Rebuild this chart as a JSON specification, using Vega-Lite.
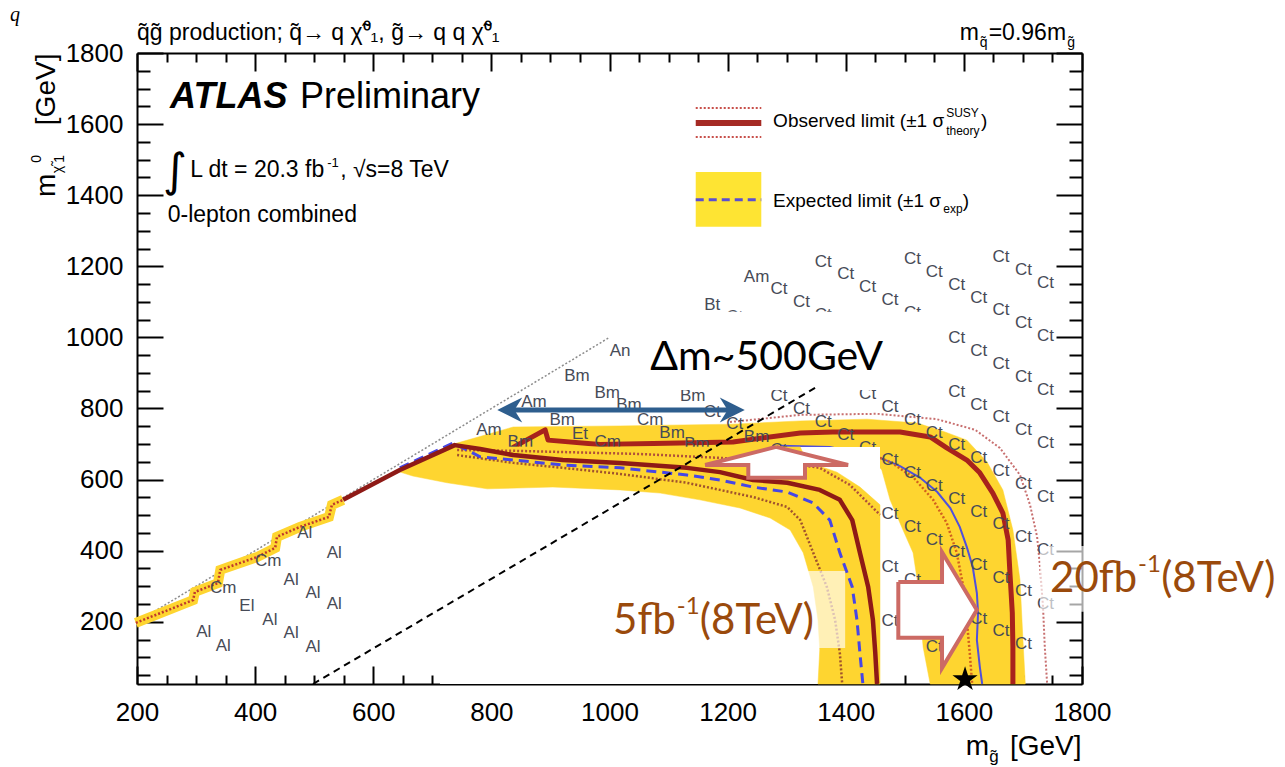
{
  "$schema": "https://vega.github.io/schema/vega-lite/v6.json",
  "width": 945,
  "height": 631,
  "autosize": {"type": "none"},
  "padding": {"left": 137, "top": 53, "right": 203, "bottom": 83},
  "background": "white",
  "config": {
    "view": {"stroke": null},
    "axis": {
      "grid": false, "domainColor": "black", "domainWidth": 2, "tickColor": "black", "tickWidth": 2,
      "labelFont": "Liberation Sans", "labelFontSize": 26, "labelColor": "black", "labelFlush": false,
      "zindex": 1, "title": null, "format": "d"
    }
  },
  "resolve": {"axis": {"x": "independent", "y": "independent"}},
  "layer": [
    {
      "description": "20 fb-1 expected band",
      "data": {"values": [
        {"x":730,"y":697},{"x":837,"y":748},{"x":1018,"y":751},{"x":1209,"y":756},{"x":1323,"y":765},{"x":1436,"y":770},{"x":1521,"y":759},{"x":1568,"y":734},{"x":1605,"y":711},{"x":1639,"y":650},{"x":1666,"y":571},{"x":1683,"y":458},{"x":1695,"y":318},{"x":1700,"y":149},{"x":1704,"y":25},{"x":1543,"y":25},{"x":1531,"y":129},{"x":1526,"y":225},{"x":1521,"y":318},{"x":1514,"y":394},{"x":1497,"y":458},{"x":1475,"y":543},{"x":1461,"y":627},{"x":1441,"y":669},{"x":1153,"y":678},{"x":730,"y":686}
      ]},
      "mark": {"type": "line", "filled": true, "fill": "#FED530", "stroke": "#FED530", "strokeWidth": 0.5},
      "encoding": {
        "x": {"field": "x", "type": "quantitative", "scale": {"domain": [200, 1800], "nice": false, "zero": false},
              "axis": {"orient": "bottom", "values": [200,400,600,800,1000,1200,1400,1600,1800], "ticks": false, "domain": true, "labelPadding": 15, "format": "d"}},
        "y": {"field": "y", "type": "quantitative", "scale": {"domain": [25, 1800], "nice": false, "zero": false},
              "axis": {"orient": "left", "values": [200,400,600,800,1000,1200,1400,1600,1800], "ticks": false, "domain": true, "labelPadding": 14, "format": "d"}},
        "order": {"value": null}
      }
    },
    {
      "description": "20 fb-1 observed limit",
      "data": {"values": [
        {"x":836,"y":690},{"x":891,"y":740},{"x":896,"y":711},{"x":984,"y":699},{"x":1209,"y":706},{"x":1323,"y":731},{"x":1378,"y":734},{"x":1492,"y":734},{"x":1543,"y":720},{"x":1571,"y":689},{"x":1605,"y":655},{"x":1627,"y":619},{"x":1649,"y":562},{"x":1666,"y":506},{"x":1675,"y":430},{"x":1678,"y":337},{"x":1682,"y":225},{"x":1683,"y":129},{"x":1683,"y":25}
      ]},
      "mark": {"type": "line", "color": "#A8221C", "strokeWidth": 5, "strokeJoin": "round"},
      "encoding": {
        "x": {"field": "x", "type": "quantitative", "axis": {"orient": "bottom", "values": [200,400,600,800,1000,1200,1400,1600,1800], "labels": false, "domain": false, "tickSize": -18}},
        "y": {"field": "y", "type": "quantitative", "axis": {"orient": "left", "values": [200,400,600,800,1000,1200,1400,1600,1800], "labels": false, "domain": false, "tickSize": -26}},
        "order": {"value": null}
      }
    },
    {
      "description": "20 fb-1 expected limit",
      "data": {"values": [
        {"x":1289,"y":695},{"x":1373,"y":692},{"x":1458,"y":661},{"x":1492,"y":638},{"x":1526,"y":605},{"x":1555,"y":565},{"x":1577,"y":520},{"x":1593,"y":467},{"x":1605,"y":410},{"x":1615,"y":354},{"x":1622,"y":281},{"x":1624,"y":225},{"x":1622,"y":149},{"x":1627,"y":73},{"x":1631,"y":25}
      ]},
      "mark": {"type": "line", "color": "#5050DC", "strokeWidth": 2},
      "encoding": {
        "x": {"field": "x", "type": "quantitative", "axis": {"orient": "bottom", "values": [250,300,350,450,500,550,650,700,750,850,900,950,1050,1100,1150,1250,1300,1350,1450,1500,1550,1650,1700,1750], "labels": false, "domain": false, "tickSize": -9}},
        "y": {"field": "y", "type": "quantitative", "axis": {"orient": "left", "values": [50,100,150,250,300,350,450,500,550,650,700,750,850,900,950,1050,1100,1150,1250,1300,1350,1450,1500,1550,1650,1700,1750], "labels": false, "domain": false, "tickSize": -13}},
        "order": {"value": null}
      }
    },
    {
      "description": "20 fb-1 observed +1 sigma",
      "data": {"values": [
        {"x":1204,"y":762},{"x":1323,"y":782},{"x":1453,"y":785},{"x":1554,"y":770},{"x":1619,"y":740},{"x":1661,"y":689},{"x":1695,"y":613},{"x":1712,"y":529},{"x":1724,"y":439},{"x":1729,"y":354},{"x":1734,"y":242},{"x":1737,"y":129},{"x":1741,"y":25}
      ]},
      "mark": {"type": "line", "color": "#C87070", "strokeWidth": 2, "strokeDash": [2, 2]},
      "encoding": {
        "x": {"field": "x", "type": "quantitative", "axis": {"orient": "top", "values": [200,400,600,800,1000,1200,1400,1600,1800], "labels": false, "domain": true, "tickSize": -18}},
        "y": {"field": "y", "type": "quantitative", "axis": {"orient": "right", "values": [200,400,600,800,1000,1200,1400,1600,1800], "labels": false, "domain": true, "tickSize": -26}},
        "order": {"value": null}
      }
    },
    {
      "description": "20 fb-1 observed -1 sigma",
      "data": {"values": [
        {"x":1458,"y":661},{"x":1475,"y":650},{"x":1514,"y":607},{"x":1548,"y":543},{"x":1571,"y":478},{"x":1588,"y":394},{"x":1599,"y":298},{"x":1605,"y":205},{"x":1610,"y":112},{"x":1614,"y":25}
      ]},
      "mark": {"type": "line", "color": "#D2601E", "strokeWidth": 2.5, "strokeDash": [2, 2]},
      "encoding": {
        "x": {"field": "x", "type": "quantitative", "axis": {"orient": "top", "values": [250,300,350,450,500,550,650,700,750,850,900,950,1050,1100,1150,1250,1300,1350,1450,1500,1550,1650,1700,1750], "labels": false, "domain": false, "tickSize": -9}},
        "y": {"field": "y", "type": "quantitative", "axis": {"orient": "right", "values": [50,100,150,250,300,350,450,500,550,650,700,750,850,900,950,1050,1100,1150,1250,1300,1350,1450,1500,1550,1650,1700,1750], "labels": false, "domain": false, "tickSize": -13}},
        "order": {"value": null}
      }
    },
    {
      "description": "best signal region per grid point (20 fb-1)",
      "data": {"values": [
        {"x":1174,"y":1092,"t":"Bt"},{"x":1174,"y":791,"t":"Ct"},
        {"x":1212,"y":1056,"t":"Ct"},{"x":1212,"y":755,"t":"Ct"},
        {"x":1249,"y":1171,"t":"Am"},{"x":1249,"y":719,"t":"Bm"},
        {"x":1287,"y":1135,"t":"Ct"},{"x":1287,"y":834,"t":"Ct"},{"x":1287,"y":683,"t":"Ct"},
        {"x":1325,"y":1099,"t":"Ct"},{"x":1325,"y":798,"t":"Ct"},
        {"x":1362,"y":1213,"t":"Ct"},{"x":1362,"y":1063,"t":"Ct"},{"x":1362,"y":762,"t":"Ct"},
        {"x":1400,"y":1177,"t":"Ct"},{"x":1400,"y":726,"t":"Ct"},
        {"x":1437,"y":1141,"t":"Ct"},{"x":1437,"y":840,"t":"Ct"},{"x":1437,"y":690,"t":"Ct"},
        {"x":1475,"y":1105,"t":"Ct"},{"x":1475,"y":804,"t":"Ct"},{"x":1475,"y":654,"t":"Ct"},{"x":1475,"y":503,"t":"Ct"},{"x":1475,"y":353,"t":"Ct"},{"x":1475,"y":202,"t":"Ct"},
        {"x":1513,"y":1220,"t":"Ct"},{"x":1513,"y":1069,"t":"Ct"},{"x":1513,"y":768,"t":"Ct"},{"x":1513,"y":618,"t":"Ct"},{"x":1513,"y":467,"t":"Ct"},{"x":1513,"y":317,"t":"Ct"},{"x":1513,"y":166,"t":"Ct"},
        {"x":1550,"y":1184,"t":"Ct"},{"x":1550,"y":732,"t":"Ct"},{"x":1550,"y":582,"t":"Ct"},{"x":1550,"y":431,"t":"Ct"},{"x":1550,"y":281,"t":"Ct"},{"x":1550,"y":130,"t":"Ct"},
        {"x":1588,"y":1148,"t":"Ct"},{"x":1588,"y":997,"t":"Ct"},{"x":1588,"y":847,"t":"Ct"},{"x":1588,"y":696,"t":"Ct"},{"x":1588,"y":546,"t":"Ct"},{"x":1588,"y":395,"t":"Ct"},{"x":1588,"y":245,"t":"Ct"},
        {"x":1625,"y":1112,"t":"Ct"},{"x":1625,"y":961,"t":"Ct"},{"x":1625,"y":811,"t":"Ct"},{"x":1625,"y":660,"t":"Ct"},{"x":1625,"y":510,"t":"Ct"},{"x":1625,"y":359,"t":"Ct"},{"x":1625,"y":209,"t":"Ct"},
        {"x":1663,"y":1226,"t":"Ct"},{"x":1663,"y":1076,"t":"Ct"},{"x":1663,"y":925,"t":"Ct"},{"x":1663,"y":775,"t":"Ct"},{"x":1663,"y":624,"t":"Ct"},{"x":1663,"y":474,"t":"Ct"},{"x":1663,"y":323,"t":"Ct"},{"x":1663,"y":173,"t":"Ct"},
        {"x":1701,"y":1190,"t":"Ct"},{"x":1701,"y":1040,"t":"Ct"},{"x":1701,"y":889,"t":"Ct"},{"x":1701,"y":739,"t":"Ct"},{"x":1701,"y":588,"t":"Ct"},{"x":1701,"y":438,"t":"Ct"},{"x":1701,"y":287,"t":"Ct"},{"x":1701,"y":137,"t":"Ct"},
        {"x":1738,"y":1154,"t":"Ct"},{"x":1738,"y":1004,"t":"Ct"},{"x":1738,"y":853,"t":"Ct"},{"x":1738,"y":703,"t":"Ct"},{"x":1738,"y":552,"t":"Ct"},{"x":1738,"y":402,"t":"Ct"},{"x":1738,"y":251,"t":"Ct"},
        {"x":1018,"y":962,"t":"An"},{"x":945,"y":891,"t":"Bm"},{"x":996,"y":844,"t":"Bm"},{"x":1033,"y":810,"t":"Bm"},{"x":1141,"y":835,"t":"Bm"},{"x":1069,"y":768,"t":"Cm"},{"x":1106,"y":731,"t":"Bm"},{"x":1148,"y":700,"t":"Bm"},{"x":872,"y":818,"t":"Am"},{"x":796,"y":740,"t":"Am"},{"x":920,"y":768,"t":"Bm"},{"x":950,"y":728,"t":"Et"},{"x":997,"y":706,"t":"Cm"},{"x":849,"y":706,"t":"Bm"}
      ]},
      "mark": {"type": "text", "font": "Liberation Sans", "fontSize": 17, "color": "#474B57", "align": "center", "baseline": "middle"},
      "encoding": {
        "x": {"field": "x", "type": "quantitative", "axis": null},
        "y": {"field": "y", "type": "quantitative", "axis": null},
        "text": {"field": "t"}
      }
    },
    {
      "description": "kinematic boundary",
      "data": {"values": [{"x":200,"y":200},{"x":1000,"y":1000}]},
      "mark": {"type": "line", "color": "#8C8C8C", "strokeWidth": 1.5, "strokeDash": [2, 2]},
      "encoding": {
        "x": {"field": "x", "type": "quantitative", "axis": null},
        "y": {"field": "y", "type": "quantitative", "axis": null}
      }
    },
    {
      "description": "pasted panels",
      "data": {"values": [{"x":713,"x2":1458,"y":25,"y2":692},{"x":1052,"x2":1565,"y":852,"y2":1072}]},
      "mark": {"type": "rect", "color": "white"},
      "encoding": {
        "x": {"field": "x", "type": "quantitative", "axis": null},
        "x2": {"field": "x2"},
        "y": {"field": "y", "type": "quantitative", "axis": null},
        "y2": {"field": "y2"}
      }
    },
    {
      "description": "5 fb-1 expected band",
      "data": {"values": [
        {"x":640,"y":624},{"x":679,"y":652},{"x":725,"y":686},{"x":730,"y":692},{"x":1323,"y":692},{"x":1334,"y":650},{"x":1385,"y":621},{"x":1424,"y":579},{"x":1458,"y":529},{"x":1458,"y":25},{"x":1353,"y":25},{"x":1356,"y":121},{"x":1353,"y":205},{"x":1345,"y":298},{"x":1328,"y":394},{"x":1306,"y":458},{"x":1272,"y":492},{"x":1221,"y":520},{"x":1153,"y":543},{"x":1086,"y":562},{"x":1018,"y":571},{"x":904,"y":579},{"x":793,"y":574},{"x":725,"y":591},{"x":667,"y":610},{"x":640,"y":624}
      ]},
      "mark": {"type": "line", "filled": true, "fill": "#FED530", "stroke": "#FED530", "strokeWidth": 0.5},
      "encoding": {
        "x": {"field": "x", "type": "quantitative", "axis": null},
        "y": {"field": "y", "type": "quantitative", "axis": null},
        "order": {"value": null}
      }
    },
    {
      "description": "compressed-region steps, band",
      "data": {"values": [
        {"x":198,"y":197},{"x":295,"y":261},{"x":298,"y":284},{"x":337,"y":309},{"x":341,"y":346},{"x":403,"y":382},{"x":434,"y":408},{"x":437,"y":439},{"x":476,"y":467},{"x":525,"y":495},{"x":530,"y":529},{"x":549,"y":543}
      ]},
      "mark": {"type": "line", "color": "#FED530", "strokeWidth": 10},
      "encoding": {
        "x": {"field": "x", "type": "quantitative", "axis": null},
        "y": {"field": "y", "type": "quantitative", "axis": null},
        "order": {"value": null}
      }
    },
    {
      "description": "compressed-region steps, limit",
      "data": {"values": [
        {"x":198,"y":197},{"x":295,"y":261},{"x":298,"y":284},{"x":337,"y":309},{"x":341,"y":346},{"x":403,"y":382},{"x":434,"y":408},{"x":437,"y":439},{"x":476,"y":467},{"x":525,"y":495},{"x":530,"y":529},{"x":549,"y":543}
      ]},
      "mark": {"type": "line", "color": "#C0392B", "strokeWidth": 2.5, "strokeDash": [2, 2]},
      "encoding": {
        "x": {"field": "x", "type": "quantitative", "axis": null},
        "y": {"field": "y", "type": "quantitative", "axis": null},
        "order": {"value": null}
      }
    },
    {
      "description": "5 fb-1 observed +1 sigma",
      "data": {"values": [
        {"x":742,"y":683},{"x":837,"y":681},{"x":1052,"y":672},{"x":1187,"y":661},{"x":1289,"y":650},{"x":1356,"y":633},{"x":1407,"y":585},{"x":1441,"y":529},{"x":1458,"y":501}
      ]},
      "mark": {"type": "line", "color": "#B0503A", "strokeWidth": 2.5, "strokeDash": [2, 2]},
      "encoding": {
        "x": {"field": "x", "type": "quantitative", "axis": null},
        "y": {"field": "y", "type": "quantitative", "axis": null},
        "order": {"value": null}
      }
    },
    {
      "description": "5 fb-1 observed -1 sigma",
      "data": {"values": [
        {"x":742,"y":669},{"x":837,"y":647},{"x":921,"y":633},{"x":1018,"y":616},{"x":1131,"y":591},{"x":1187,"y":571},{"x":1243,"y":551},{"x":1301,"y":523},{"x":1323,"y":486},{"x":1345,"y":394},{"x":1368,"y":298},{"x":1382,"y":205},{"x":1390,"y":112},{"x":1394,"y":25}
      ]},
      "mark": {"type": "line", "color": "#A0522D", "strokeWidth": 2.5, "strokeDash": [2, 2]},
      "encoding": {
        "x": {"field": "x", "type": "quantitative", "axis": null},
        "y": {"field": "y", "type": "quantitative", "axis": null},
        "order": {"value": null}
      }
    },
    {
      "description": "5 fb-1 expected limit",
      "data": {"values": [
        {"x":645,"y":633},{"x":735,"y":703},{"x":781,"y":664},{"x":837,"y":655},{"x":921,"y":641},{"x":1018,"y":633},{"x":1131,"y":613},{"x":1187,"y":599},{"x":1243,"y":579},{"x":1301,"y":565},{"x":1345,"y":534},{"x":1373,"y":486},{"x":1390,"y":394},{"x":1411,"y":298},{"x":1419,"y":205},{"x":1424,"y":112},{"x":1429,"y":25}
      ]},
      "mark": {"type": "line", "color": "#4646E6", "strokeWidth": 3, "strokeDash": [10, 6]},
      "encoding": {
        "x": {"field": "x", "type": "quantitative", "axis": null},
        "y": {"field": "y", "type": "quantitative", "axis": null},
        "order": {"value": null}
      }
    },
    {
      "description": "5 fb-1 observed limit",
      "data": {"values": [
        {"x":549,"y":543},{"x":645,"y":627},{"x":738,"y":697},{"x":781,"y":686},{"x":837,"y":669},{"x":921,"y":655},{"x":1018,"y":647},{"x":1131,"y":633},{"x":1187,"y":621},{"x":1243,"y":599},{"x":1301,"y":591},{"x":1356,"y":571},{"x":1390,"y":543},{"x":1411,"y":486},{"x":1424,"y":394},{"x":1438,"y":298},{"x":1446,"y":205},{"x":1450,"y":112},{"x":1453,"y":25}
      ]},
      "mark": {"type": "line", "color": "#8E1A16", "strokeWidth": 4.5, "strokeJoin": "round"},
      "encoding": {
        "x": {"field": "x", "type": "quantitative", "axis": null},
        "y": {"field": "y", "type": "quantitative", "axis": null},
        "order": {"value": null}
      }
    },
    {
      "description": "best signal region per grid point (5 fb-1)",
      "data": {"values": [
        {"x":484,"y":450,"t":"Al"},{"x":422,"y":371,"t":"Cm"},{"x":534,"y":394,"t":"Al"},{"x":346,"y":295,"t":"Cm"},{"x":461,"y":318,"t":"Al"},{"x":498,"y":281,"t":"Al"},{"x":534,"y":250,"t":"Al"},{"x":386,"y":245,"t":"El"},{"x":425,"y":205,"t":"Al"},{"x":313,"y":171,"t":"Al"},{"x":346,"y":132,"t":"Al"},{"x":461,"y":169,"t":"Al"},{"x":498,"y":129,"t":"Al"}
      ]},
      "mark": {"type": "text", "font": "Liberation Sans", "fontSize": 17, "color": "#474B57", "align": "center", "baseline": "middle"},
      "encoding": {
        "x": {"field": "x", "type": "quantitative", "axis": null},
        "y": {"field": "y", "type": "quantitative", "axis": null},
        "text": {"field": "t"}
      }
    },
    {
      "description": "label backdrops",
      "data": {"values": [{"x":998,"x2":1399,"y":126,"y2":343},{"x":1729,"x2":2144,"y":228,"y2":413}]},
      "mark": {"type": "rect", "color": "white", "opacity": 0.65},
      "encoding": {
        "x": {"field": "x", "type": "quantitative", "axis": null},
        "x2": {"field": "x2"},
        "y": {"field": "y", "type": "quantitative", "axis": null},
        "y2": {"field": "y2"}
      }
    },
    {
      "description": "legend: theory uncertainty lines",
      "data": {"values": [{"x":1146,"y":1645,"g":"a"},{"x":1257,"y":1645,"g":"a"},{"x":1146,"y":1564,"g":"b"},{"x":1257,"y":1564,"g":"b"}]},
      "mark": {"type": "line", "color": "#C8504A", "strokeWidth": 2, "strokeDash": [2, 2]},
      "encoding": {
        "x": {"field": "x", "type": "quantitative", "axis": null},
        "y": {"field": "y", "type": "quantitative", "axis": null},
        "detail": {"field": "g"}
      }
    },
    {
      "description": "legend: observed line",
      "data": {"values": [{"x":1146,"y":1603},{"x":1257,"y":1603}]},
      "mark": {"type": "line", "color": "#A52A24", "strokeWidth": 6},
      "encoding": {
        "x": {"field": "x", "type": "quantitative", "axis": null},
        "y": {"field": "y", "type": "quantitative", "axis": null}
      }
    },
    {
      "description": "legend: band swatch",
      "data": {"values": [{"x":1146,"x2":1257,"y":1311,"y2":1465}]},
      "mark": {"type": "rect", "color": "#FEE433"},
      "encoding": {
        "x": {"field": "x", "type": "quantitative", "axis": null},
        "x2": {"field": "x2"},
        "y": {"field": "y", "type": "quantitative", "axis": null},
        "y2": {"field": "y2"}
      }
    },
    {
      "description": "legend: expected line",
      "data": {"values": [{"x":1146,"y":1387},{"x":1257,"y":1387}]},
      "mark": {"type": "line", "color": "#5B4FD0", "strokeWidth": 3, "strokeDash": [8, 5]},
      "encoding": {
        "x": {"field": "x", "type": "quantitative", "axis": null},
        "y": {"field": "y", "type": "quantitative", "axis": null}
      }
    },
    {
      "description": "legend text",
      "data": {"values": [
        {"x":1277,"y":1592,"t":"Observed limit (\u00b11 \u03c3"},{"x":1629,"y":1592,"t":")"},
        {"x":1277,"y":1367,"t":"Expected limit (\u00b11 \u03c3"},{"x":1598,"y":1367,"t":")"}
      ]},
      "mark": {"type": "text", "font": "Liberation Sans", "fontSize": 19, "color": "black", "align": "left", "baseline": "alphabetic"},
      "encoding": {
        "x": {"field": "x", "type": "quantitative", "axis": null},
        "y": {"field": "y", "type": "quantitative", "axis": null},
        "text": {"field": "t"}
      }
    },
    {
      "description": "legend sub- and superscripts",
      "data": {"values": [
        {"x":1570,"y":1620,"t":"SUSY"},{"x":1570,"y":1569,"t":"theory"},{"x":1565,"y":1350,"t":"exp"}
      ]},
      "mark": {"type": "text", "font": "Liberation Sans", "fontSize": 12, "color": "black", "align": "left", "baseline": "alphabetic"},
      "encoding": {
        "x": {"field": "x", "type": "quantitative", "axis": null},
        "y": {"field": "y", "type": "quantitative", "axis": null},
        "text": {"field": "t"}
      }
    },
    {
      "description": "header",
      "data": {"values": [
        {"x":200,"y":1837,"t":"q\u0303g\u0303 production; q\u0303\u2192 q \u03c7\u0303\u2070\u2081, g\u0303\u2192 q q \u03c7\u0303\u2070\u2081"},
        {"x":1593,"y":1837,"t":"m"},{"x":1642,"y":1837,"t":"=0.96m"}
      ]},
      "mark": {"type": "text", "font": "Liberation Sans", "fontSize": 23, "color": "black", "align": "left", "baseline": "alphabetic"},
      "encoding": {
        "x": {"field": "x", "type": "quantitative", "axis": null},
        "y": {"field": "y", "type": "quantitative", "axis": null},
        "text": {"field": "t"}
      }
    },
    {
      "description": "header subscripts",
      "data": {"values": [{"x":1627,"y":1817,"t":"q\u0303"},{"x":1775,"y":1817,"t":"g\u0303"}]},
      "mark": {"type": "text", "font": "Liberation Sans", "fontSize": 14, "color": "black", "align": "left", "baseline": "alphabetic"},
      "encoding": {
        "x": {"field": "x", "type": "quantitative", "axis": null},
        "y": {"field": "y", "type": "quantitative", "axis": null},
        "text": {"field": "t"}
      }
    },
    {
      "data": {"values": [{"x":256,"y":1645,"t":"ATLAS"}]},
      "mark": {"type": "text", "font": "Liberation Sans", "fontSize": 36, "fontWeight": "bold", "fontStyle": "italic", "color": "black", "align": "left", "baseline": "alphabetic"},
      "encoding": {
        "x": {"field": "x", "type": "quantitative", "axis": null},
        "y": {"field": "y", "type": "quantitative", "axis": null},
        "text": {"field": "t"}
      }
    },
    {
      "data": {"values": [{"x":476,"y":1645,"t":"Preliminary"}]},
      "mark": {"type": "text", "font": "Liberation Sans", "fontSize": 36, "color": "black", "align": "left", "baseline": "alphabetic"},
      "encoding": {
        "x": {"field": "x", "type": "quantitative", "axis": null},
        "y": {"field": "y", "type": "quantitative", "axis": null},
        "text": {"field": "t"}
      }
    },
    {
      "description": "luminosity and selection",
      "data": {"values": [
        {"x":290,"y":1451,"t":"L dt = 20.3 fb"},{"x":544,"y":1451,"t":",  \u221as=8 TeV"},{"x":252,"y":1325,"t":"0-lepton combined"}
      ]},
      "mark": {"type": "text", "font": "Liberation Sans", "fontSize": 23, "color": "black", "align": "left", "baseline": "alphabetic"},
      "encoding": {
        "x": {"field": "x", "type": "quantitative", "axis": null},
        "y": {"field": "y", "type": "quantitative", "axis": null},
        "text": {"field": "t"}
      }
    },
    {
      "data": {"values": [{"x":522,"y":1479,"t":"-1"}]},
      "mark": {"type": "text", "font": "Liberation Sans", "fontSize": 13, "color": "black", "align": "left", "baseline": "alphabetic"},
      "encoding": {
        "x": {"field": "x", "type": "quantitative", "axis": null},
        "y": {"field": "y", "type": "quantitative", "axis": null},
        "text": {"field": "t"}
      }
    },
    {
      "data": {"values": [{"x":244,"y":1426,"t":"\u222b"}]},
      "mark": {"type": "text", "font": "DejaVu Sans", "fontSize": 46, "color": "black", "align": "left", "baseline": "alphabetic"},
      "encoding": {
        "x": {"field": "x", "type": "quantitative", "axis": null},
        "y": {"field": "y", "type": "quantitative", "axis": null},
        "text": {"field": "t"}
      }
    },
    {
      "description": "x axis title",
      "data": {"values": [{"x":1603,"y":-175,"t":"m"},{"x":1678,"y":-175,"t":"[GeV]"}]},
      "mark": {"type": "text", "font": "Liberation Sans", "fontSize": 28, "color": "black", "align": "left", "baseline": "alphabetic"},
      "encoding": {
        "x": {"field": "x", "type": "quantitative", "axis": null},
        "y": {"field": "y", "type": "quantitative", "axis": null},
        "text": {"field": "t"}
      }
    },
    {
      "data": {"values": [{"x":1643,"y":-194,"t":"g\u0303"}]},
      "mark": {"type": "text", "font": "Liberation Sans", "fontSize": 17, "color": "black", "align": "left", "baseline": "alphabetic"},
      "encoding": {
        "x": {"field": "x", "type": "quantitative", "axis": null},
        "y": {"field": "y", "type": "quantitative", "axis": null},
        "text": {"field": "t"}
      }
    },
    {
      "description": "y axis title",
      "data": {"values": [{"x":61,"y":1395,"t":"m"},{"x":61,"y":1597,"t":"[GeV]"}]},
      "mark": {"type": "text", "font": "Liberation Sans", "fontSize": 28, "color": "black", "align": "left", "baseline": "alphabetic", "angle": 270},
      "encoding": {
        "x": {"field": "x", "type": "quantitative", "axis": null},
        "y": {"field": "y", "type": "quantitative", "axis": null},
        "text": {"field": "t"}
      }
    },
    {
      "data": {"values": [{"x":73,"y":1462,"t":"\u03c7\u0303"},{"x":76,"y":1491,"t":"1"},{"x":38,"y":1491,"t":"0"}]},
      "mark": {"type": "text", "font": "Liberation Sans", "fontSize": 14, "color": "black", "align": "left", "baseline": "alphabetic", "angle": 270},
      "encoding": {
        "x": {"field": "x", "type": "quantitative", "axis": null},
        "y": {"field": "y", "type": "quantitative", "axis": null},
        "text": {"field": "t"}
      }
    },
    {
      "data": {"values": [{"x":-15,"y":1890,"t":"q"}]},
      "mark": {"type": "text", "font": "Liberation Serif", "fontSize": 20, "fontStyle": "italic", "color": "black", "align": "left", "baseline": "alphabetic"},
      "encoding": {
        "x": {"field": "x", "type": "quantitative", "axis": null},
        "y": {"field": "y", "type": "quantitative", "axis": null},
        "text": {"field": "t"}
      }
    },
    {
      "description": "mass splitting of 500 GeV",
      "data": {"values": [{"x":498,"y":25},{"x":1348,"y":858}]},
      "mark": {"type": "line", "color": "black", "strokeWidth": 2, "strokeDash": [7, 5]},
      "encoding": {
        "x": {"field": "x", "type": "quantitative", "axis": null},
        "y": {"field": "y", "type": "quantitative", "axis": null}
      }
    },
    {
      "description": "double arrow shaft",
      "data": {"values": [{"x":826,"y":796},{"x":1213,"y":796}]},
      "mark": {"type": "line", "color": "#2E5E8E", "strokeWidth": 5},
      "encoding": {
        "x": {"field": "x", "type": "quantitative", "axis": null},
        "y": {"field": "y", "type": "quantitative", "axis": null}
      }
    },
    {
      "data": {"values": [{"x":1229,"y":796}]},
      "mark": {"type": "point", "shape": "M0,0L-1.6,-0.8L-1.1,0L-1.6,0.8Z", "size": 975, "filled": true, "color": "#2E5E8E", "opacity": 1},
      "encoding": {
        "x": {"field": "x", "type": "quantitative", "axis": null},
        "y": {"field": "y", "type": "quantitative", "axis": null}
      }
    },
    {
      "data": {"values": [{"x":810,"y":796}]},
      "mark": {"type": "point", "shape": "M0,0L1.6,-0.8L1.1,0L1.6,0.8Z", "size": 975, "filled": true, "color": "#2E5E8E", "opacity": 1},
      "encoding": {
        "x": {"field": "x", "type": "quantitative", "axis": null},
        "y": {"field": "y", "type": "quantitative", "axis": null}
      }
    },
    {
      "description": "up block arrow",
      "data": {"values": [
        {"x":1282,"y":692},{"x":1404,"y":641},{"x":1331,"y":641},{"x":1331,"y":605},{"x":1235,"y":605},{"x":1235,"y":641},{"x":1162,"y":641},{"x":1282,"y":692}
      ]},
      "mark": {"type": "line", "filled": true, "fill": "white", "stroke": "#CC6A64", "strokeWidth": 4, "strokeJoin": "miter"},
      "encoding": {
        "x": {"field": "x", "type": "quantitative", "axis": null},
        "y": {"field": "y", "type": "quantitative", "axis": null},
        "order": {"value": null}
      }
    },
    {
      "description": "right block arrow",
      "data": {"values": [
        {"x":1489,"y":312},{"x":1563,"y":312},{"x":1563,"y":396},{"x":1622,"y":233},{"x":1563,"y":70},{"x":1563,"y":155},{"x":1489,"y":155},{"x":1489,"y":312}
      ]},
      "mark": {"type": "line", "filled": true, "fill": "white", "stroke": "#CC6A64", "strokeWidth": 4, "strokeJoin": "miter"},
      "encoding": {
        "x": {"field": "x", "type": "quantitative", "axis": null},
        "y": {"field": "y", "type": "quantitative", "axis": null},
        "order": {"value": null}
      }
    },
    {
      "description": "benchmark point",
      "data": {"values": [{"x":1602,"y":38}]},
      "mark": {"type": "point", "shape": "M0,-1L0.2245,-0.309L0.951,-0.309L0.363,0.118L0.588,0.809L0,0.382L-0.588,0.809L-0.363,0.118L-0.951,-0.309L-0.2245,-0.309Z", "size": 700, "filled": true, "color": "black", "opacity": 1},
      "encoding": {
        "x": {"field": "x", "type": "quantitative", "axis": null},
        "y": {"field": "y", "type": "quantitative", "axis": null}
      }
    },
    {
      "data": {"values": [{"x":1069,"y":908,"t":"\u0394m~500GeV"}]},
      "mark": {"type": "text", "font": "Lato", "fontSize": 41, "color": "black", "align": "left", "baseline": "alphabetic"},
      "encoding": {
        "x": {"field": "x", "type": "quantitative", "axis": null},
        "y": {"field": "y", "type": "quantitative", "axis": null},
        "text": {"field": "t"}
      }
    },
    {
      "description": "luminosity annotations",
      "data": {"values": [
        {"x":1006,"y":166,"t":"5fb"},{"x":1153,"y":166,"t":"(8TeV)"},
        {"x":1746,"y":284,"t":"20fb"},{"x":1934,"y":284,"t":"(8TeV)"}
      ]},
      "mark": {"type": "text", "font": "Lato", "fontSize": 42, "color": "#9A4A0C", "align": "left", "baseline": "alphabetic"},
      "encoding": {
        "x": {"field": "x", "type": "quantitative", "axis": null},
        "y": {"field": "y", "type": "quantitative", "axis": null},
        "text": {"field": "t"}
      }
    },
    {
      "data": {"values": [{"x":1114,"y":222,"t":"-1"},{"x":1895,"y":340,"t":"-1"}]},
      "mark": {"type": "text", "font": "Lato", "fontSize": 24, "color": "#9A4A0C", "align": "left", "baseline": "alphabetic"},
      "encoding": {
        "x": {"field": "x", "type": "quantitative", "axis": null},
        "y": {"field": "y", "type": "quantitative", "axis": null},
        "text": {"field": "t"}
      }
    }
  ]
}
